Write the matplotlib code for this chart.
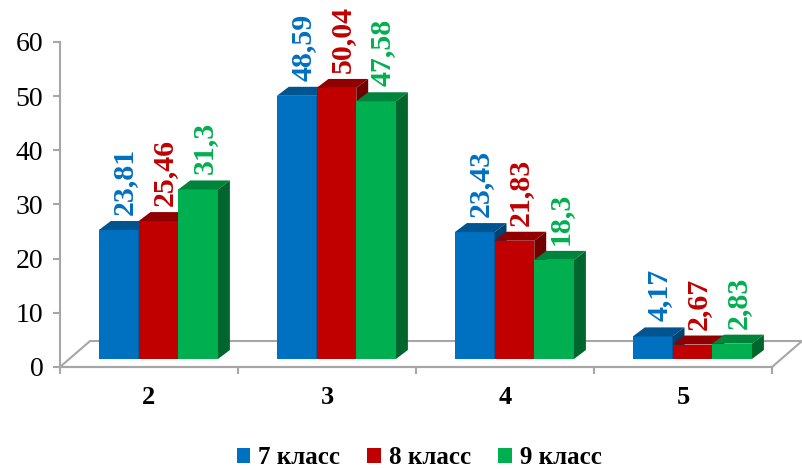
import matplotlib.pyplot as plt
from matplotlib.patches import Polygon, Rectangle, Patch
from matplotlib.colors import to_rgb

plt.rcParams['font.family'] = ['Liberation Serif', 'DejaVu Serif']

# данные
categories = ['2', '3', '4', '5']
series_names = ['7 класс', '8 класс', '9 класс']
grade7 = [23.81, 48.59, 23.43, 4.17]
grade8 = [25.46, 50.04, 21.83, 2.67]
grade9 = [31.3, 47.58, 18.3, 2.83]
colors = ['#0070C0', '#C00000', '#00B050']

series = [grade7, grade8, grade9]
gray = '#A6A6A6'


def shade(c, f):
    r, g, b = to_rgb(c)
    return (r * f, g * f, b * f)


fig = plt.figure(figsize=(8.03, 4.70), dpi=100)
ax = fig.add_axes([60 / 803, 103 / 470, 712 / 803, 325 / 470])
ax.set_xlim(-0.5, 3.5)
ax.set_ylim(0, 60)

# псевдо-3D: пол
fdx, fdy = 0.169, 4.8
floor = Polygon([(-0.5, 0), (3.5, 0), (3.5 + fdx, fdy), (-0.5 + fdx, fdy)],
                closed=True, facecolor='white', edgecolor=gray, lw=1.5,
                clip_on=False, zorder=1)
ax.add_patch(floor)

# столбцы
bw = 0.223
shift = 0.053
base = 1.48
ddx, ddy = 0.067, 1.66
z = 2
for i in range(len(categories)):
    for j, vals in enumerate(series):
        v = vals[i]
        c = colors[j]
        x0 = i - 1.5 * bw + j * bw + shift
        ax.add_patch(Rectangle((x0, base), bw, v, facecolor=c, edgecolor='none',
                               clip_on=False, zorder=z))
        ax.add_patch(Polygon([(x0, base + v), (x0 + bw, base + v),
                              (x0 + bw + ddx, base + v + ddy), (x0 + ddx, base + v + ddy)],
                             closed=True, facecolor=shade(c, 0.75), edgecolor='none',
                             clip_on=False, zorder=z))
        ax.add_patch(Polygon([(x0 + bw, base), (x0 + bw + ddx, base + ddy),
                              (x0 + bw + ddx, base + v + ddy), (x0 + bw, base + v)],
                             closed=True, facecolor=shade(c, 0.58), edgecolor='none',
                             clip_on=False, zorder=z))
        z += 1
        label = f'{v:g}'.replace('.', ',')
        ax.text(x0 + bw / 2 + ddx / 2, base + v + ddy + 1.1, label, rotation=90,
                ha='center', va='bottom', color=c, fontsize=21.5, fontweight='bold',
                clip_on=False, zorder=20)

# оси
for s in ['top', 'right']:
    ax.spines[s].set_visible(False)
ax.spines['left'].set_color(gray)
ax.spines['left'].set_linewidth(1.5)
ax.spines['bottom'].set_color(gray)
ax.spines['bottom'].set_linewidth(1.5)

ax.set_yticks(range(0, 61, 10))
ax.tick_params(axis='y', labelsize=20, length=5, width=1.5, color=gray, pad=7)

ax.set_xticks([-0.5, 0.5, 1.5, 2.5, 3.5])
ax.set_xticklabels([])
ax.tick_params(axis='x', which='major', length=5, width=1.5, color=gray)
ax.set_xticks(range(len(categories)), minor=True)
ax.set_xticklabels(categories, minor=True, fontsize=19, fontweight='bold')
ax.tick_params(axis='x', which='minor', length=0, pad=14)

handles = [Patch(facecolor=c, edgecolor='none', label=n) for c, n in zip(colors, series_names)]
fig.legend(handles=handles, loc='center', bbox_to_anchor=(419 / 803, 1 - 458 / 470),
           ncol=3, frameon=False, prop={'weight': 'bold', 'size': 18},
           handlelength=0.55, handleheight=0.55, handletextpad=0.3, columnspacing=1.1)

fig.savefig('out.png', dpi=100)
